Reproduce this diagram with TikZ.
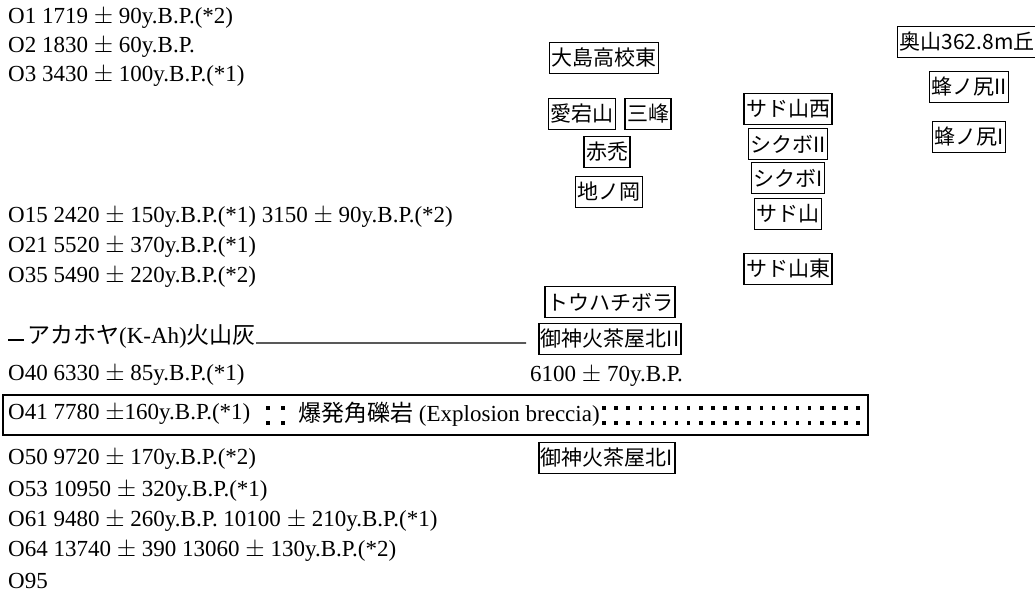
\documentclass[tikz,border=0pt]{standalone}
\usepackage{fontspec}
\setmainfont{Liberation Serif}
\newfontfamily\jp{Noto Sans CJK JP}
\begin{document}
\begin{tikzpicture}[x=1pt,y=-1pt,
  row/.style={anchor=west,inner sep=0pt,font=\fontsize{23}{26}\selectfont},
  site/.style={draw,line width=1.6pt,inner xsep=2pt,inner ysep=0pt,minimum height=31pt,font=\jp\fontsize{21}{21}\selectfont},
  dotm/.style={fill=black,minimum size=3.5pt,inner sep=0pt,rectangle}]
\useasboundingbox (0,0) rectangle (1035,592);
% left column
\node[row] (o1)  at (8,18)  {O1 1719 $\pm$ 90y.B.P.(*2)};
\node[row] (o2)  at (8,47)  {O2 1830 $\pm$ 60y.B.P.};
\node[row] (o3)  at (8,76)  {O3 3430 $\pm$ 100y.B.P.(*1)};
\node[row] (o15) at (8,217) {O15 2420 $\pm$ 150y.B.P.(*1) 3150 $\pm$ 90y.B.P.(*2)};
\node[row] (o21) at (8,247) {O21 5520 $\pm$ 370y.B.P.(*1)};
\node[row] (o35) at (8,277) {O35 5490 $\pm$ 220y.B.P.(*2)};
\node[row] (ah)  at (27,336) {{\jp アカホヤ}(K-Ah){\jp 火山灰}};
\node[row] (o40) at (8,375) {O40 6330 $\pm$ 85y.B.P.(*1)};
\node[row] (o41) at (8,414) {O41 7780 $\pm$160y.B.P.(*1)};
\node[row] (brec) at (298,414) {{\jp 爆発角礫岩} (Explosion breccia)};
\node[row] (o50) at (8,459) {O50 9720 $\pm$ 170y.B.P.(*2)};
\node[row] (o53) at (8,491) {O53 10950 $\pm$ 320y.B.P.(*1)};
\node[row] (o61) at (8,521) {O61 9480 $\pm$ 260y.B.P. 10100 $\pm$ 210y.B.P.(*1)};
\node[row] (o64) at (8,551) {O64 13740 $\pm$ 390 13060 $\pm$ 130y.B.P.(*2)};
\node[row] (o95) at (8,581) {O95};
\node[row] (d6100) at (530,376) {6100 $\pm$ 70y.B.P.};
% site boxes
\node[site] (ooshima) at (604,58) {大島高校東};
\node[site] (atago) at (582,114) {愛宕山};
\node[site] (mitsu) at (648,114) {三峰};
\node[site] (akahage) at (607,152) {赤禿};
\node[site] (jinooka) at (609,192) {地ノ岡};
\node[site] (sadow) at (788,109) {サド山西};
\node[site] (shik2) at (788,144) {シクボII};
\node[site] (shik1) at (788,178) {シクボI};
\node[site] (sado) at (788,214) {サド山};
\node[site] (sadoe) at (788,269) {サド山東};
\node[site] (okuyama) at (967,42) {奥山362.8m丘};
\node[site] (hachi2) at (969,87) {蜂ノ尻II};
\node[site] (hachi1) at (969,137) {蜂ノ尻I};
\node[site] (touhachi) at (610,302) {トウハチボラ};
\node[site] (ochaya2) at (610,339) {御神火茶屋北II};
\node[site] (ochaya1) at (607,458) {御神火茶屋北I};
% Akahoya ash line
\coordinate (ahL) at (8,340);
\coordinate (ahR) at (526,343);
\draw[line width=1.3pt] (ahL) -- ++(16,0);
\draw[line width=1.2pt] (ah.base east) -- (ahR);
% explosion breccia layer
\draw[line width=2.6pt] (3,395) rectangle (868,435);
\foreach \x in {268,283} {
  \node[dotm] at (\x,408) {};
  \node[dotm] at (\x,423) {};
}
\foreach \i in {0,...,21} {
  \node[dotm] at (604+12.1*\i,408) {};
  \node[dotm] at (604+12.1*\i,423) {};
}
\end{tikzpicture}
\end{document}
